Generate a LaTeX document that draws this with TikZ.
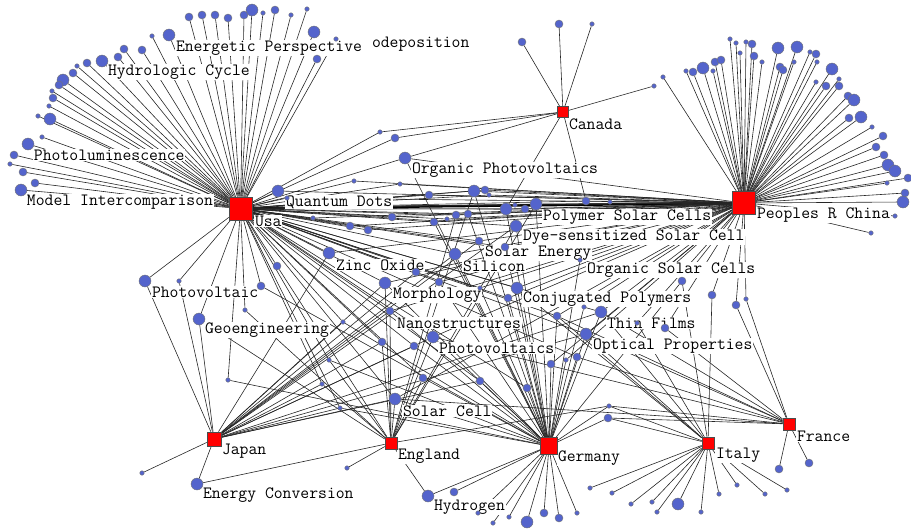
\documentclass[tikz,border=0pt]{standalone}
\usepackage{tikz}
\definecolor{dotblue}{RGB}{84,100,204}
\pgfdeclarelayer{edges}
\pgfdeclarelayer{labels}
\pgfsetlayers{edges,labels,main}
\tikzset{
  country/.style={rectangle, draw=black!70, fill=red, inner sep=0pt, line width=0.6pt},
  kw/.style={circle, draw=black!55, fill=dotblue, inner sep=0pt, line width=0.4pt},
  kws/.style={kw, minimum size=4.5pt},
  kwm/.style={kw, minimum size=8pt},
  kwb/.style={kw, minimum size=12pt},
  edge/.style={draw=black!85, line width=0.6pt},
  heavy/.style={draw=black, line width=2.4pt},
  lbl/.style={fill=white, inner sep=0.8pt, anchor=west, font=\ttfamily\fontsize{17.2}{18}\selectfont},
}

\begin{document}
\begin{tikzpicture}[x=1pt, y=-1pt]
\useasboundingbox (0,0) rectangle (911,528);

\node[country, minimum size=23pt] (usa) at (240.5,208.5) {};
\node[country, minimum size=23pt] (china) at (744,203) {};
\node[country, minimum size=11pt] (canada) at (563,112) {};
\node[country, minimum size=14pt] (japan) at (214,439) {};
\node[country, minimum size=12pt] (england) at (391,443) {};
\node[country, minimum size=17pt] (germany) at (549,446) {};
\node[country, minimum size=12pt] (italy) at (708,443) {};
\node[country, minimum size=12pt] (france) at (789,424) {};

\foreach \x/\y/\s [count=\i] in {189/17/m, 202/15/m, 215/15/m, 228/18/m, 244/15/m, 252/10/b,
    263/13/s, 275/10/m, 291/15/s, 307/9/s, 314/32/b, 336/39/s, 317/59/m, 169/35/b, 152/36/s,
    142/50/m, 124/49/m, 118/57/m, 102/61/b, 87/63/m, 77/66/s, 73/73/m, 63/80/b, 59/85/m,
    52/91/s, 53/98/m, 49/106/s, 38/116/s, 50/119/b, 42/137/s, 28/144/b, 14/155/m, 10/164/s,
    23/172/m, 35/183/m, 21/190/b}
  \node[kw\s] (u\i) at (\x,\y) {};

\foreach \x/\y/\s [count=\i] in {730/39/s, 736/43/s, 746/42/s, 752/44/m, 740/53/s, 754/56/m,
    762/62/s, 778/48/b, 797/47/b, 810/52/s, 816/54/m, 794/62/s, 817/62/s, 780/67/m, 783/70/m,
    686/71/s, 693/72/m, 703/68/b, 713/71/s, 715/62/m, 721/60/m, 832/69/b, 839/79/s, 816/82/s,
    826/86/m, 839/86/m, 848/96/m, 854/100/b, 849/118/m, 861/117/b, 872/127/s, 883/136/m,
    876/147/m, 884/155/m, 888/165/b, 895/171/b, 887/183/s, 908/178/m, 905/193/m, 903/202/b,
    895/216/s, 871/233/s, 663/77/s}
  \node[kw\s] (p\i) at (\x,\y) {};

\foreach \x/\y/\s [count=\i] in {590/488/s, 612/493/s, 631/504/s, 652/502/s, 657/512/s,
    678/504/b, 701/512/s, 719/494/s, 737/485/s, 765/494/s, 787/490/s}
  \node[kw\s] (it\i) at (\x,\y) {};

\foreach \x/\y/\s [count=\i] in {478/513/s, 493/523/s, 509/517/s, 527/522/b, 544/513/m,
    559/518/m, 577/513/s, 454/492/m}
  \node[kw\s] (ge\i) at (\x,\y) {};

\foreach \x/\y/\s [count=\i] in {559/24/m, 592/24/s, 522/42/m, 654/86/s}
  \node[kw\s] (ca\i) at (\x,\y) {};

\node[kwm] (fr1) at (779,469) {};
\node[kwm] (fr2) at (809,463) {};
\node[kws] (en1) at (347,468) {};
\node[kws] (jp1) at (142,473) {};

\foreach \n/\x/\y/\s in {q1/278/191/b, q2/287/198/s, o1/405/158/b, a1/354/181/s, a2/380/132/s,
    a3/395/138/m, a4/400/184/s, a5/429/195/m, a6/474/191/b, a7/485/190/m, a8/489/195/s,
    a9/313/218/s, a10/392/217/m, a11/350/226/m, a12/368/230/m, a13/434/222/m, a14/447/219/s,
    a15/456/215/m, a16/468/214/m, a17/506/209/b, a18/515/205/s, a19/525/209/m, a20/536/204/b,
    a21/586/201/m, a22/610/202/s, d1/516/226/b, se/479/241/m, b1/505/247/m, si/455/254/b,
    zo/329/253/b, b2/277/266/m, b3/261/286/m, b4/416/272/m, b5/439/282/m, mo/385/283/b,
    b6/480/288/s, cp/517/288/b, b7/508/298/m, b8/580/260/s, b9/682/281/m, b10/712/295/m,
    b11/736/305/m, b12/746/299/s, ns/390/311/m, b15/343/322/s, b16/382/342/m, pv/433/337/b,
    b17/414/346/m, b18/557/316/m, b19/584/307/s, tf/601/312/b, b20/637/323/s, b21/665/328/m,
    op/586/334/b, b22/577/357/m, b23/566/360/s, b24/551/364/m, b25/329/360/s, b26/322/384/s,
    b27/228/380/s, b28/340/408/s, b29/423/378/m, b30/480/381/m, b31/527/388/m, sc/395/399/b,
    b32/609/406/s, b33/608/418/m, ph/145/281/b, b35/179/281/s, gn/199/319/b, b36/245/310/s,
    ec/197/484/b, hy/428/496/b}
  \node[kw\s] (\n) at (\x,\y) {};

\begin{pgfonlayer}{edges}
\draw[heavy] (usa) -- (china);
\foreach \i in {1,...,36} \draw[edge] (u\i) -- (usa);
\foreach \i in {1,...,43} \draw[edge] (p\i) -- (china);
\foreach \i in {1,...,11} \draw[edge] (it\i) -- (italy);
\foreach \i in {1,...,8} \draw[edge] (ge\i) -- (germany);
\foreach \i in {1,...,4} \draw[edge] (ca\i) -- (canada);
\foreach \n in {fr1,fr2} \draw[edge] (\n) -- (france);
\draw[edge] (en1) -- (england);
\draw[edge] (jp1) -- (japan);
\foreach \n in {q1,q2,o1,a1,a2,a3,a4,a5,a6,a7,a8,a9,a10,a11,a12,a13,a14,a15,a16,a17,a18,a19,
    a20,a21,d1,se,b1,si,zo,b2,b3,b4,b5,mo,b6,cp,b7,b8,ns,b15,b16,pv,b17,b18,tf,op,b22,b25,
    b26,b27,b28,b29,b30,b31,sc,ph,b35,gn,b36}
  \draw[edge] (usa) -- (\n);
\foreach \n in {q1,q2,o1,a1,a4,a5,a6,a7,a8,a9,a10,a11,a12,a13,a14,a15,a16,a17,a18,a19,a20,
    a21,a22,d1,se,b1,si,zo,b4,b5,mo,b6,cp,b7,b8,b9,b10,b11,b12,ns,pv,b18,b19,tf,b20,b21,op,
    b23,b24,sc}
  \draw[edge] (china) -- (\n);
\foreach \n in {a2,a3,o1,a17,a21}
  \draw[edge] (canada) -- (\n);
\foreach \n in {ph,b35,gn,zo,se,si,d1,b4,ns,b15,b16,pv,b17,tf,op,b26,b28,b30,sc,ec,mo}
  \draw[edge] (japan) -- (\n);
\foreach \n in {ec,hy,mo,ns,b16,pv,sc,b25,b26,b29,a6,a15,a20,d1,gn,b2,b32,b36}
  \draw[edge] (england) -- (\n);
\foreach \n in {o1,a6,a13,a16,a17,a20,d1,b1,si,b3,b5,mo,b6,cp,b7,b8,b9,ns,b15,pv,b17,b18,b19,
    tf,op,b22,b23,b24,b25,b27,b28,b29,b30,b31,sc,b32,b33,hy}
  \draw[edge] (germany) -- (\n);
\foreach \n in {b9,b10,b20,tf,op,b18,b32,b33,cp}
  \draw[edge] (italy) -- (\n);
\foreach \n in {b11,b12,b18,tf,b21,op,b22,sc,b32,b33,pv}
  \draw[edge] (france) -- (\n);
\end{pgfonlayer}

\begin{pgfonlayer}{labels}
\node[lbl] (lusa) at (254,221) {Usa};
\node[lbl] (lchina) at (756,215) {Peoples R China};
\node[lbl] (lcanada) at (568,124) {Canada};
\node[lbl] (ljapan) at (221,451) {Japan};
\node[lbl] (lengland) at (397,456) {England};
\node[lbl] (lgermany) at (557,458) {Germany};
\node[lbl] (litaly) at (715,455) {Italy};
\node[lbl] (lfrance) at (796,436) {France};
\node[lbl] (lep) at (175,48) {Energetic Perspective};
\node[lbl] (led) at (371,44) {odeposition};
\node[lbl] (lhc) at (107,72) {Hydrologic Cycle};
\node[lbl] (lpl) at (33,155) {Photoluminescence};
\node[lbl] (lmi) at (26,202) {Model Intercomparison};
\node[lbl] (lqd) at (285,202) {Quantum Dots};
\node[lbl] (lop) at (411,170) {Organic Photovoltaics};
\node[lbl] (lps) at (542,217) {Polymer Solar Cells};
\node[lbl] (lds) at (522,237) {Dye-sensitized Solar Cell};
\node[lbl] (lse) at (484,253) {Solar Energy};
\node[lbl] (lsi) at (462,266) {Silicon};
\node[lbl] (lzo) at (335,265) {Zinc Oxide};
\node[lbl] (losc) at (586,270) {Organic Solar Cells};
\node[lbl] (lmo) at (392,295) {Morphology};
\node[lbl] (lcp) at (522,299) {Conjugated Polymers};
\node[lbl] (lns) at (396,323) {Nanostructures};
\node[lbl] (ltf) at (606,323) {Thin Films};
\node[lbl] (lpvs) at (438,348) {Photovoltaics};
\node[lbl] (lopp) at (592,346) {Optical Properties};
\node[lbl] (lsc) at (402,411) {Solar Cell};
\node[lbl] (lpv) at (151,292) {Photovoltaic};
\node[lbl] (lgn) at (204,330) {Geoengineering};
\node[lbl] (lec) at (202,495) {Energy Conversion};
\node[lbl] (lhy) at (433,507) {Hydrogen};
\end{pgfonlayer}
\end{tikzpicture}
\end{document}
